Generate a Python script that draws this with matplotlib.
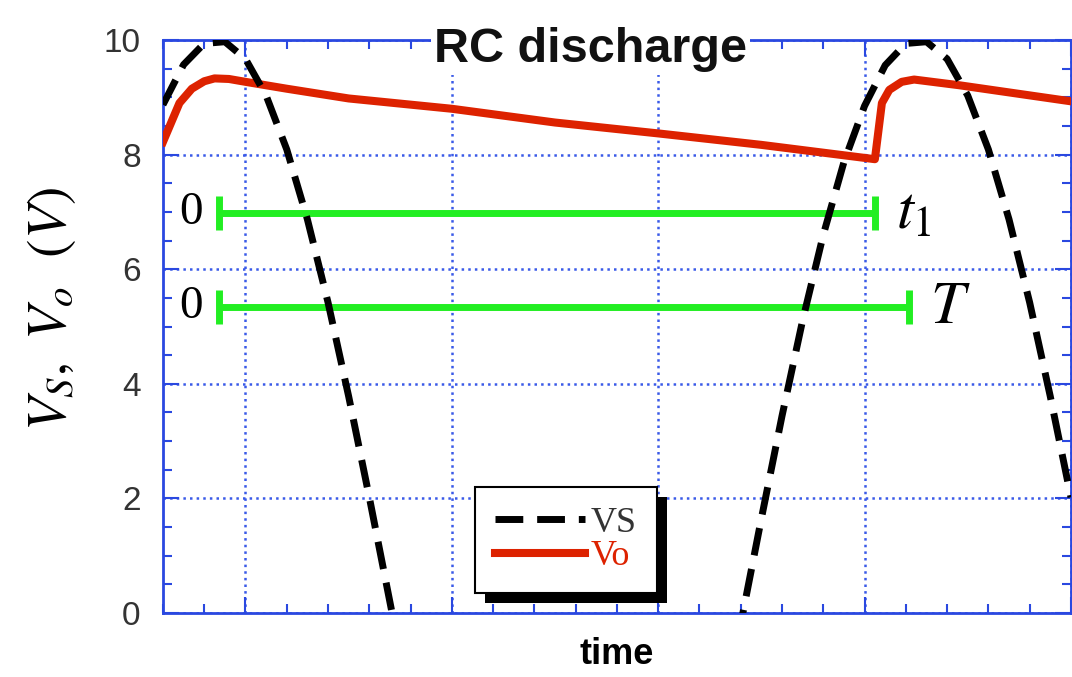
import numpy as np
import matplotlib
matplotlib.use('Agg')
import matplotlib.pyplot as plt
from matplotlib.ticker import MultipleLocator
from matplotlib.patches import Rectangle

plt.rcParams['font.family'] = 'Liberation Sans'
plt.rcParams['mathtext.fontset'] = 'stix'

# source voltage (V), sampled every 0.5 ms from -2 ms to 20 ms
t_vs = np.arange(-2.0, 20.01, 0.5)
vs = [8.87, 9.57, 9.94, 9.97, 9.67, 9.03, 8.09, 6.87, 5.42, 3.78, 2.02, 0.19,
      -1.65, -3.44, -5.11, -6.60, -7.87, -8.85, -9.56, -9.94, -9.97, -9.67,
      -9.03, -8.09, -6.87, -5.42, -3.78, -2.02, -0.19,
      1.65, 3.44, 5.11, 6.60, 7.87, 8.85, 9.56, 9.94, 9.97, 9.67, 9.03,
      8.09, 6.87, 5.42, 3.78, 2.02]

# output voltage across the capacitor (V)
t_vo = [-2.0, -1.6, -1.3, -1.0, -0.75, -0.4, 0.0, 1.0, 2.5, 5.0, 7.5, 10.0,
        12.5, 15.25, 15.42, 15.6, 15.9, 16.2, 17.3, 20.0]
vo = [8.22, 8.9, 9.15, 9.28, 9.33, 9.32, 9.27, 9.15, 8.98, 8.8, 8.56, 8.37,
      8.17, 7.92, 8.9, 9.13, 9.27, 9.31, 9.21, 8.93]

# interval markers: 0 -> t1 (discharge) and 0 -> T (period)
bar_y = [6.98, 5.34]
bar_start = [-0.64, -0.64]
bar_end = [15.25, 16.08]
bar_labels = ['$t_1$', '$T$']

blue = '#2a48e0'

fig = plt.figure(figsize=(10.72, 6.77), dpi=100)
ax = fig.add_axes([0.152, 0.0945, 0.847, 0.8464])

l_vo, = ax.plot(t_vo, vo, color='#dd2200', lw=5.8, solid_joinstyle='round', zorder=3)
l_vs, = ax.plot(t_vs, vs, color='black', lw=5, dashes=(4, 2), zorder=4)

for y, x0, x1, lab in zip(bar_y, bar_start, bar_end, bar_labels):
    ax.plot([x0, x1], [y, y], color='#22ee22', lw=5, marker='|', ms=25, mew=5,
            solid_capstyle='butt', zorder=3.5)
    ax.text(-1.32, y, '0', ha='center', va='center', fontsize=34,
            family='Liberation Serif')
    ax.text(x1 + 0.5, y, lab, ha='left', va='center', fontsize=44)

ax.set_xlim(-2, 20)
ax.set_ylim(0, 10)
ax.xaxis.set_major_locator(MultipleLocator(5))
ax.xaxis.set_minor_locator(MultipleLocator(1))
ax.yaxis.set_major_locator(MultipleLocator(2))
ax.yaxis.set_minor_locator(MultipleLocator(0.5))

ax.tick_params(which='both', direction='in', top=True, right=True,
               color=blue, width=1.5, labelbottom=False)
ax.tick_params(which='major', length=11.5)
ax.tick_params(which='minor', length=6.5)
ax.tick_params(axis='y', labelsize=24, labelcolor='#333333', pad=16)
for sp in ax.spines.values():
    sp.set_color(blue)
    sp.set_linewidth(2)

ax.grid(True, which='major', color='#3a5ae8', linestyle=':', linewidth=1.8)

ax.set_xlabel('time', fontsize=26, fontweight='bold', labelpad=17)
ax.set_ylabel(r'$V_S,\ V_o\ \ (V)$', fontsize=40)
ax.yaxis.set_label_coords(-0.094, 0.53)

ax.text(0.471, 0.9616, 'RC discharge', transform=ax.transAxes, ha='center',
        va='baseline', fontsize=35, fontweight='bold', color='#111111',
        bbox=dict(facecolor='white', edgecolor='none', pad=2),
        zorder=6, clip_on=False)

leg = ax.legend(handles=[l_vs, l_vo], labels=['VS', 'Vo'], loc='upper left',
                bbox_to_anchor=(0.344, 0.220), prop={'family': 'Liberation Serif', 'size': 26},
                frameon=True, fancybox=False, edgecolor='black', framealpha=1,
                handlelength=2.5, handletextpad=0.15, labelspacing=0.0,
                borderpad=0.55, borderaxespad=0)
leg.get_frame().set_linewidth(1.5)
leg.get_texts()[0].set_color('#333333')
leg.get_texts()[1].set_color('#dd2200')

# solid drop shadow under the legend box
fig.canvas.draw()
bb = leg.get_window_extent().transformed(ax.transAxes.inverted())
dx = 10 / (ax.bbox.width)
dy = 10 / (ax.bbox.height)
ax.add_patch(Rectangle((bb.x0 + dx, bb.y0 - dy), bb.width, bb.height,
                       transform=ax.transAxes, facecolor='black', edgecolor='none',
                       zorder=leg.get_zorder() - 0.1, clip_on=False))

plt.savefig('out.png', dpi=100)
